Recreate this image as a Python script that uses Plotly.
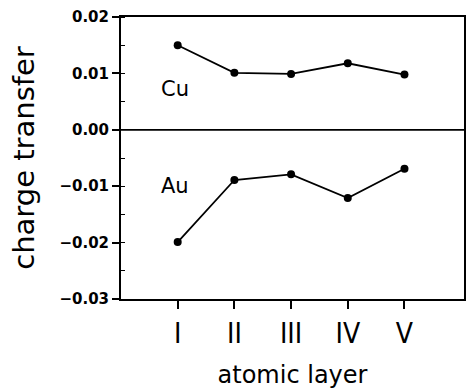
import plotly.graph_objects as go

layers = [1, 2, 3, 4, 5]
layer_labels = ["I", "II", "III", "IV", "V"]
cu_values = [0.015, 0.0101, 0.0099, 0.0118, 0.0098]
au_values = [-0.0199, -0.0089, -0.0079, -0.0121, -0.0069]
y_ticks = [0.02, 0.01, 0.00, -0.01, -0.02, -0.03]
y_tick_labels = ["0.02", "0.01", "0.00", "\u22120.01", "\u22120.02", "\u22120.03"]

fig = go.Figure()
for vals in (cu_values, au_values):
    fig.add_trace(go.Scatter(
        x=layers, y=vals, mode="lines+markers",
        line=dict(color="black", width=1.8),
        marker=dict(color="black", size=8),
        showlegend=False, cliponaxis=False,
    ))

fig.add_hline(y=0, line=dict(color="black", width=1.8))

fig.add_annotation(x=0.95, y=0.0072, text="Cu", showarrow=False,
                   xanchor="center", yanchor="middle",
                   font=dict(family="DejaVu Sans", size=21, color="black"))
fig.add_annotation(x=0.95, y=-0.0100, text="Au", showarrow=False,
                   xanchor="center", yanchor="middle",
                   font=dict(family="DejaVu Sans", size=21, color="black"))

fig.update_xaxes(
    range=[0, 6.05], tickvals=layers, ticktext=layer_labels,
    ticks="outside", ticklen=8, tickwidth=1.5, tickcolor="black",
    showline=True, linecolor="black", linewidth=2, mirror=True,
    showgrid=False, zeroline=False,
    tickfont=dict(family="DejaVu Sans Condensed", size=28, color="black"),
    title=dict(text="atomic layer", standoff=18,
               font=dict(family="DejaVu Sans", size=24, color="black")),
)
fig.update_yaxes(
    range=[-0.03, 0.02], tickvals=y_ticks, ticktext=y_tick_labels,
    ticks="outside", ticklen=7, tickwidth=1.5, tickcolor="black",
    minor=dict(dtick=0.005, ticks="inside", ticklen=4, tickcolor="black", tickwidth=1),
    showline=True, linecolor="black", linewidth=2, mirror=True,
    showgrid=False, zeroline=False,
    tickfont=dict(family="DejaVu Sans", size=15, color="black", weight="bold"),
    title=dict(text="charge transfer", standoff=16,
               font=dict(family="DejaVu Sans", size=29, color="black")),
)

fig.update_layout(
    width=474, height=392,
    margin=dict(l=121, r=8, t=15, b=92),
    paper_bgcolor="white", plot_bgcolor="white",
)

fig.write_html("out.html")
